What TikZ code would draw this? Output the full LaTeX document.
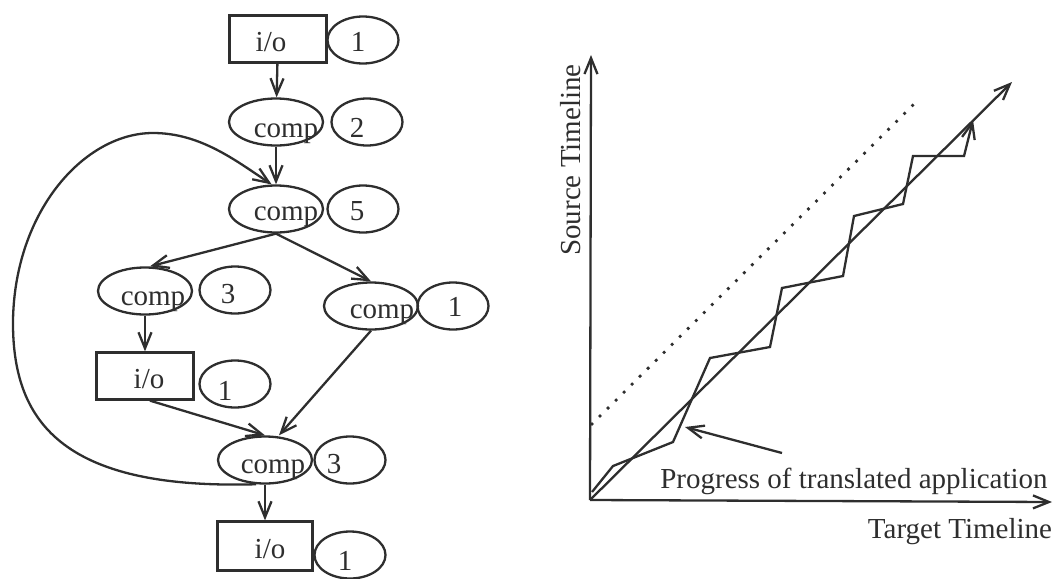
\documentclass[tikz,border=0pt]{standalone}
\usepackage{fontspec}
\setmainfont{Liberation Serif}
\usetikzlibrary{arrows.meta,shapes.geometric}
\definecolor{ink}{HTML}{2E2E2E}
\begin{document}
\begin{tikzpicture}[x=1pt,y=-1pt,line width=2.3pt,color=ink,
  font=\fontsize{29}{32}\selectfont,
  iobox/.style={draw,rectangle,minimum width=97pt,minimum height=47pt,inner sep=0pt},
  compnode/.style={draw,ellipse,minimum width=94pt,minimum height=47pt,inner sep=0pt},
  weight/.style={draw,ellipse,minimum width=71pt,minimum height=47pt,inner sep=0pt},
  lbl/.style={inner sep=0pt,anchor=base},
  flow/.style={-{Straight Barb[length=16pt,width=13pt]}},
  progress/.style={line join=miter},
  dots/.style={line width=3.8pt,line cap=round,dash pattern=on 0pt off 11.3pt},
]
\useasboundingbox (0,0) rectangle (1056,578);

% ---------------- task graph ----------------
\node[iobox]   (io1) at (278,39)  {};
\node[weight]  (w1)  at (363,40)  {};
\node[compnode](c2)  at (276,122) {};
\node[weight]  (w2)  at (367,122) {};
\node[compnode](c5)  at (276,209) {};
\node[weight]  (w5)  at (363,209) {};
\node[compnode](cl)  at (145,291) {};
\node[weight]  (wl)  at (235,290) {};
\node[compnode](cr)  at (371,306) {};
\node[weight]  (wr)  at (453,306) {};
\node[iobox]   (io2) at (145,376) {};
\node[weight]  (wio2) at (235,384) {};
\node[compnode](c3)  at (265,460) {};
\node[weight]  (w3)  at (350,460) {};
\node[iobox,minimum width=95pt,minimum height=49pt] (io3) at (265,546) {};
\node[weight]  (wio3) at (350,555) {};

% labels inside the shapes
\node[lbl] (io1t) at (271,52)  {i/o};
\node[lbl] (w1t)  at (358,52)  {1};
\node[lbl] (c2t)  at (286,137) {comp};
\node[lbl] (w2t)  at (357,137) {2};
\node[lbl] (c5t)  at (286,220) {comp};
\node[lbl] (w5t)  at (357,220) {5};
\node[lbl] (clt)  at (153,305) {comp};
\node[lbl] (wlt)  at (228,303) {3};
\node[lbl] (crt)  at (382,318) {comp};
\node[lbl] (wrt)  at (455,316) {1};
\node[lbl] (io2t) at (149,388) {i/o};
\node[lbl] (wio2t) at (225,400) {1};
\node[lbl] (c3t)  at (273,473) {comp};
\node[lbl] (w3t)  at (334,473) {3};
\node[lbl] (io3t) at (270,558) {i/o};
\node[lbl] (wio3t) at (345,570) {1};

% dependencies
\draw[flow] (io1) -- (c2);
\draw[flow] (c2) -- (c5);
\draw[flow] (c5.south) -- ([xshift=5pt]cl.north);
\draw[flow] (c5.south) -- (cr.north);
\draw[flow] (cl.south) -- (io2.north);
\draw[flow] ([xshift=5pt]io2.south) -- (c3.north);
\draw[flow] (cr.south) -- ([xshift=14pt]c3.north);
\draw[flow] (c3.south) -- (io3.north);
% loop back edge
\draw[flow] (c3.250) .. controls (60,490) and (12,420) .. (13,320)
  .. controls (15,210) and (85,133) .. (153,133)
  .. controls (200,133) and (235,160) .. (c5.100);

% ---------------- timeline plot ----------------
\coordinate (O)    at (590,500);
\coordinate (ytip) at (591,55);
\coordinate (xtip) at (1052,502);
\coordinate (dtip) at (1012,82);
\coordinate (s0)   at (592,424);
\coordinate (s1)   at (914,104);
\coordinate (ptail) at (782,453);
\coordinate (phead) at (685,427);

\draw[flow] (O) -- (ytip);
\draw[flow] (O) -- (xtip);
\draw[flow] (O) -- (dtip);
\draw[dots] (s0) -- (s1);
\draw[flow,progress] (592,492) -- (613,466) -- (673,442) -- (710,358)
  -- (770,347) -- (782,288) -- (843,276) -- (854,216) -- (903,204)
  -- (913,156) -- (964,156) -- (973,120);
\draw[flow] (ptail) -- (phead);

\node[inner sep=0pt,rotate=90] (src) at (571,160) {Source Timeline};
\node[lbl] (prog) at (854,488) {Progress of translated application};
\node[lbl] (tgt)  at (960,538) {Target Timeline};
\end{tikzpicture}
\end{document}
